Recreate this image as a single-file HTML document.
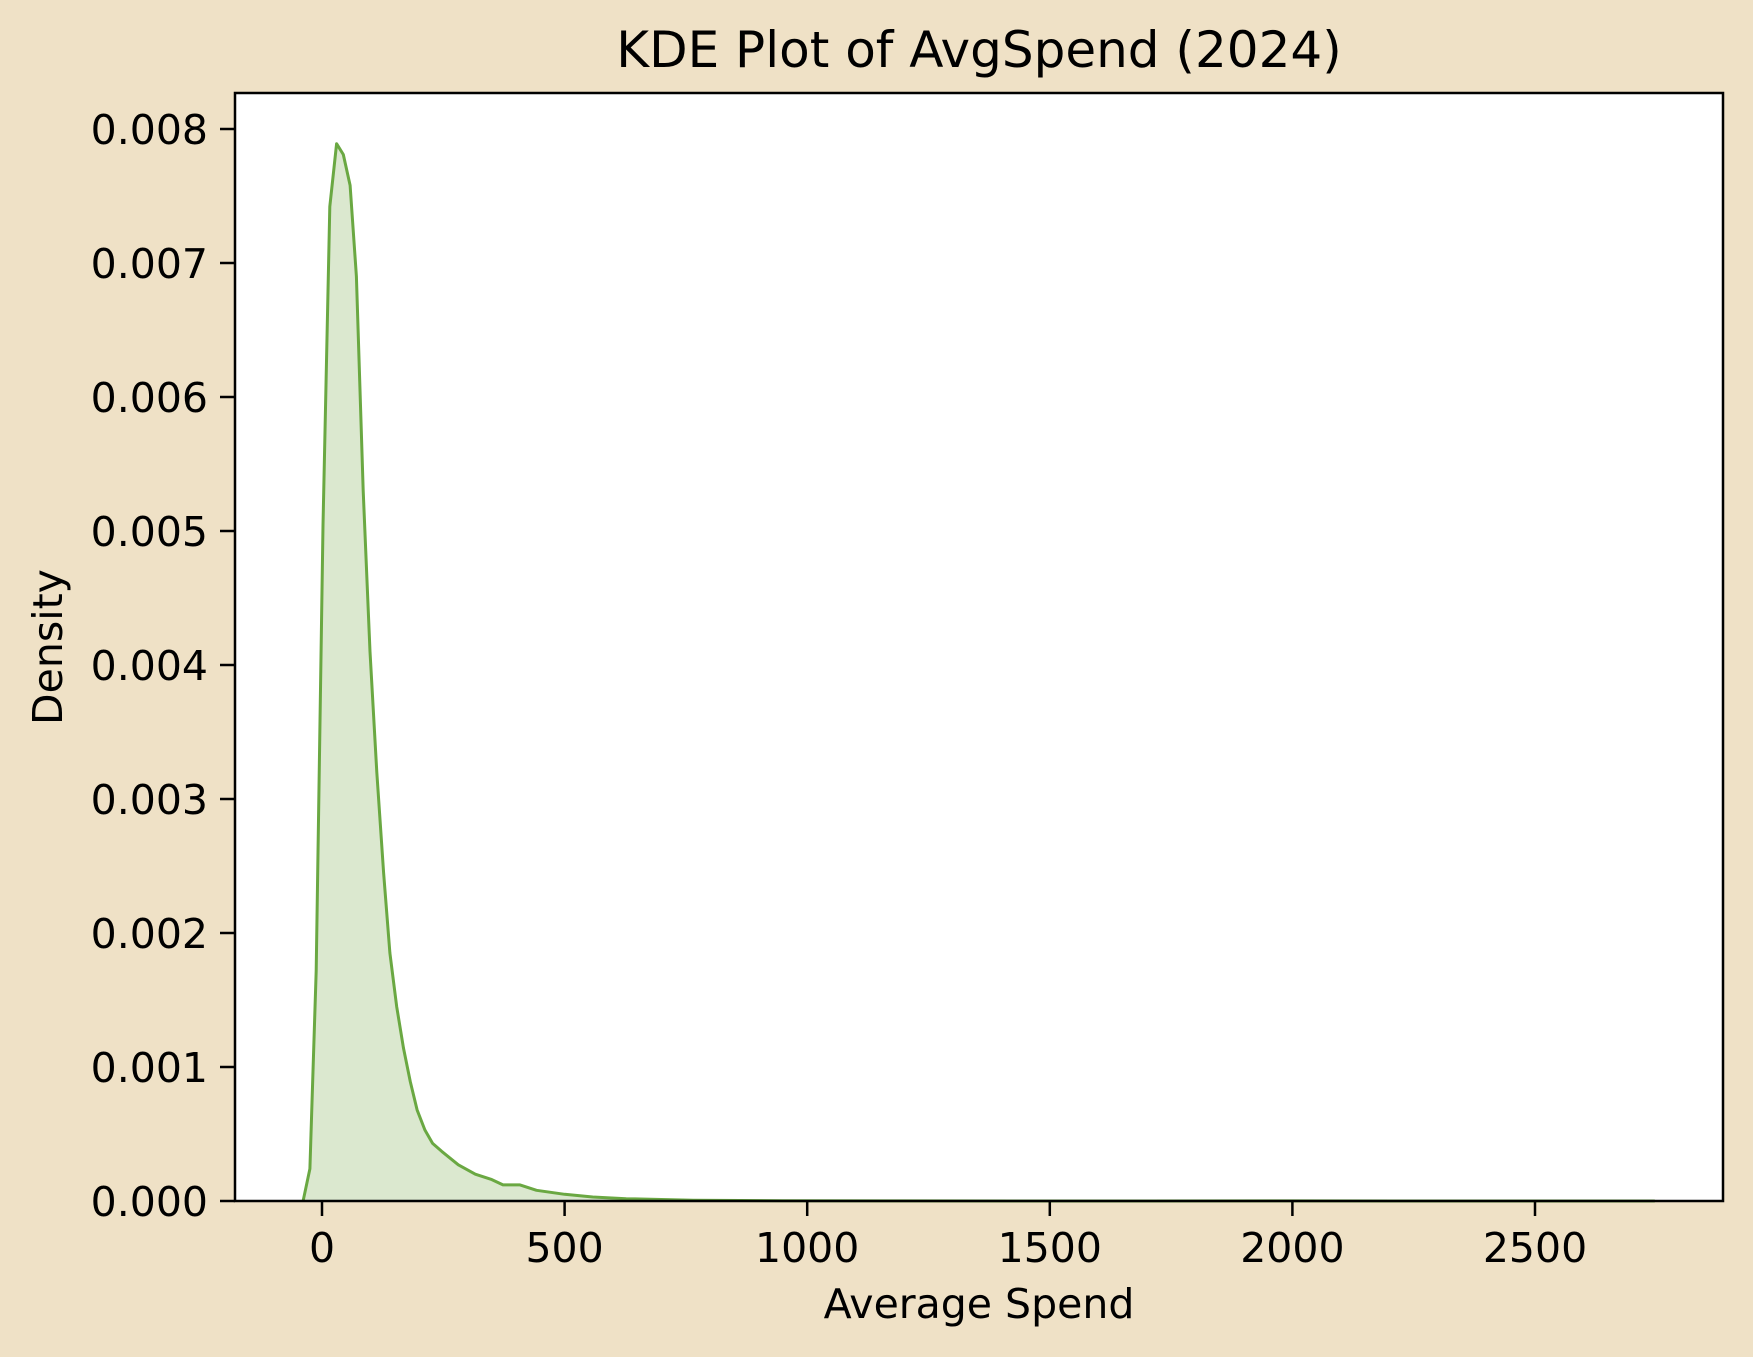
<!DOCTYPE html>
<html><head><meta charset="utf-8"><style>
html,body{margin:0;padding:0;background:#efe1c6;}
svg{display:block;font-family:"DejaVu Sans","Liberation Sans",sans-serif;}
</style></head><body>
<svg id="chart" width="1753" height="1357" viewBox="0 0 1753 1357">
<rect x="0" y="0" width="1753" height="1357" fill="#efe1c6"/>
<rect x="235" y="93" width="1488" height="1108" fill="#ffffff"/>
<g id="marks"></g>
<g id="axes"></g>
<rect x="235" y="93" width="1488" height="1108" fill="none" stroke="#000" stroke-width="2.5"/>
<text x="979" y="67" font-size="50" text-anchor="middle">KDE Plot of AvgSpend (2024)</text>
<text x="979" y="1318" font-size="41" text-anchor="middle">Average Spend</text>
<text x="62" y="647" font-size="41" text-anchor="middle" transform="rotate(-90 62 647)">Density</text>
</svg>
<script>
const xs = [-39,-25,-12,2,16,30,44,58,71,85,99,113,127,140,154,168,182,196,212,228,247,281,316,350,373,408,442,500,558,627,765,949,1200,1600,2000,2400,2747];
const ys = [0,0.00024,0.00172,0.00504,0.00742,0.00789,0.00781,0.00758,0.0069,0.0053,0.0041,0.0032,0.00245,0.00185,0.00145,0.00114,0.00089,0.00068,0.00053,0.00043,0.00037,0.00027,0.0002,0.00016,0.00012,0.00012,0.00008,0.00005,0.00003,0.000017,0.000005,0.000002,0.000001,0,0.000001,0,0];
const xTicks = [0,500,1000,1500,2000,2500];
const yTicks = [0,0.001,0.002,0.003,0.004,0.005,0.006,0.007,0.008];
const yTickLabels = ["0.000","0.001","0.002","0.003","0.004","0.005","0.006","0.007","0.008"];
const NS="http://www.w3.org/2000/svg";
function X(v){return 322+v*0.4852;}
function Y(v){return 1201-v*134000;}
const marks=document.getElementById('marks'), axes=document.getElementById('axes');
let d='';
for(let i=0;i<xs.length;i++){d+=(i?'L':'M')+X(xs[i]).toFixed(1)+','+Y(ys[i]).toFixed(1);}
const area=document.createElementNS(NS,'path');
area.setAttribute('d',d+'L'+X(xs[xs.length-1])+','+Y(0)+'L'+X(xs[0])+','+Y(0)+'Z');
area.setAttribute('fill','#dbe8cf');


marks.appendChild(area);
const line=document.createElementNS(NS,'path');
line.setAttribute('d',d);
line.setAttribute('fill','none');line.setAttribute('stroke','#6aa842');line.setAttribute('stroke-width','3');line.setAttribute('stroke-linejoin','round');


marks.appendChild(line);
xTicks.forEach(t=>{
  const l=document.createElementNS(NS,'line');
  l.setAttribute('x1',X(t));l.setAttribute('x2',X(t));l.setAttribute('y1',1201);l.setAttribute('y2',1216);l.setAttribute('stroke','#000');l.setAttribute('stroke-width','2.5');
  
  
  axes.appendChild(l);
  const tx=document.createElementNS(NS,'text');
  tx.setAttribute('x',X(t));tx.setAttribute('y',1262);tx.setAttribute('font-size','41');tx.setAttribute('text-anchor','middle');
  tx.textContent=String(t);
  
  
  axes.appendChild(tx);
});
yTicks.forEach((t,i)=>{
  const l=document.createElementNS(NS,'line');
  l.setAttribute('x1',220);l.setAttribute('x2',235);l.setAttribute('y1',Y(t));l.setAttribute('y2',Y(t));l.setAttribute('stroke','#000');l.setAttribute('stroke-width','2.5');
  
  
  axes.appendChild(l);
  const tx=document.createElementNS(NS,'text');
  tx.setAttribute('x',208);tx.setAttribute('y',Y(t)+15);tx.setAttribute('font-size','41');tx.setAttribute('text-anchor','end');
  tx.textContent=yTickLabels[i];
  
  
  axes.appendChild(tx);
});
</script>
</body></html>
